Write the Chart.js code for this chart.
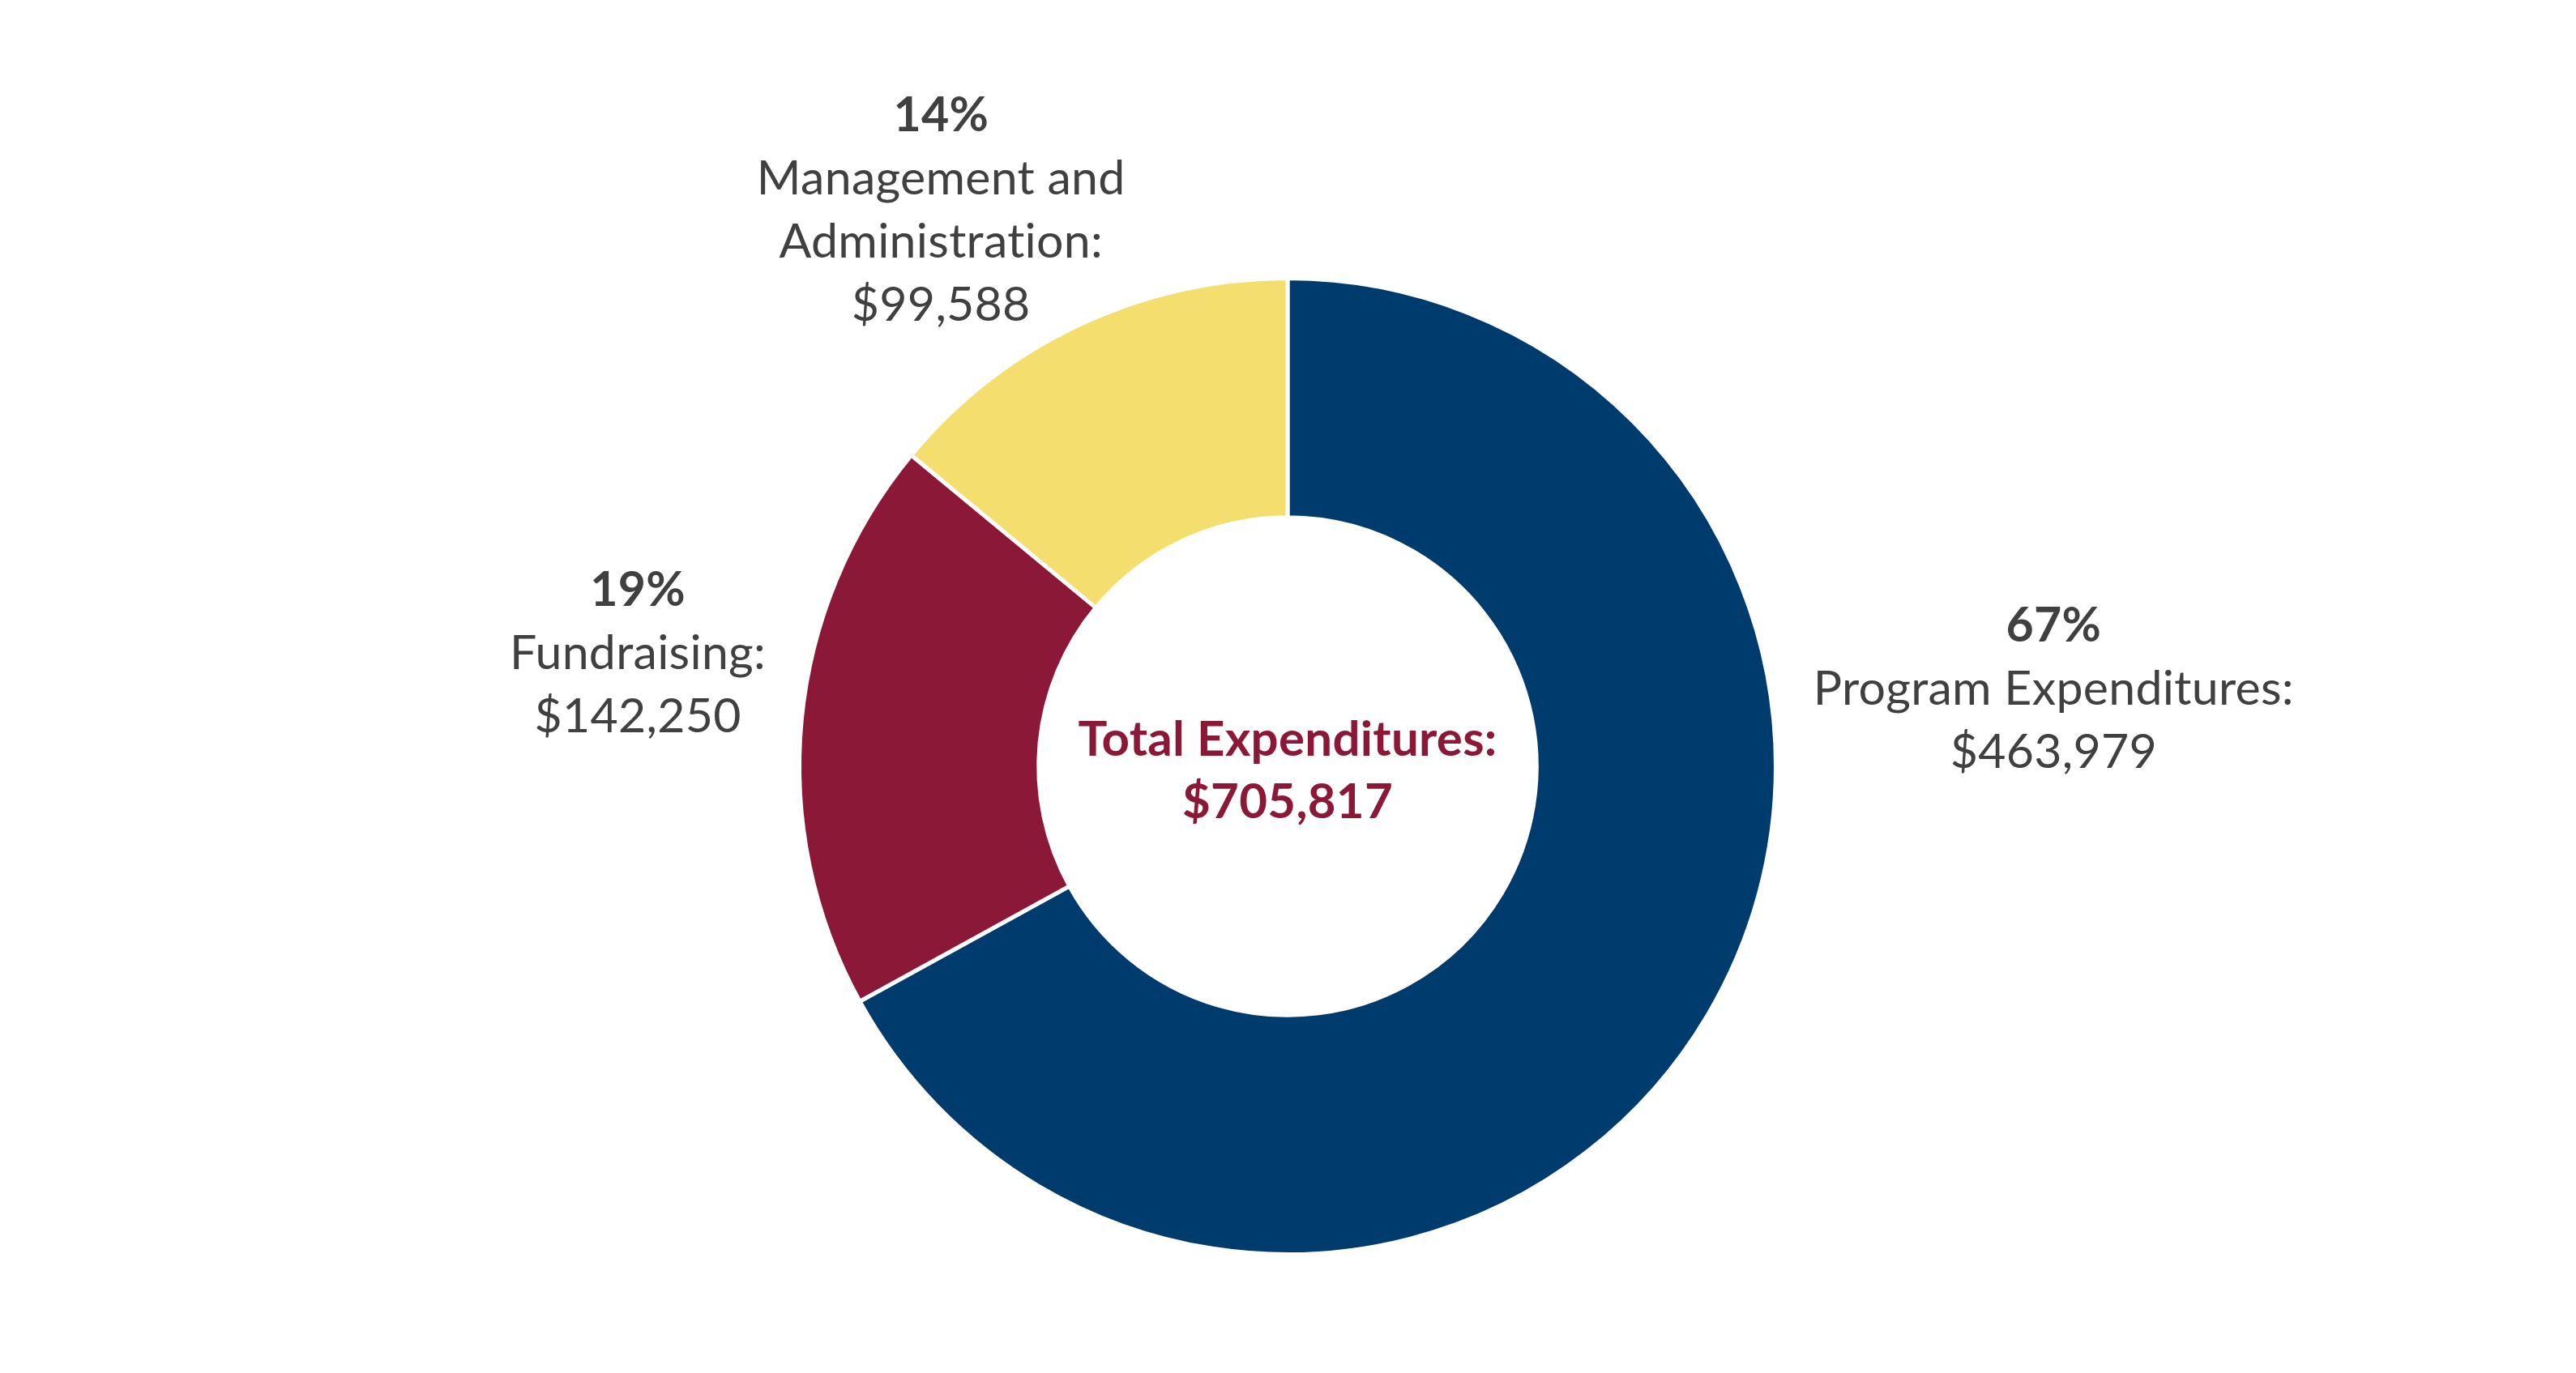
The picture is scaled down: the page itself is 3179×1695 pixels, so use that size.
<!DOCTYPE html>
<html lang="en">
<head>
    <meta charset="UTF-8">
    <title>Expenditures</title>
    <script src="https://cdn.jsdelivr.net/npm/chart.js@4.4.1/dist/chart.umd.min.js"></script>
    <style>
        html, body { margin: 0; padding: 0; background: #ffffff; }
        #wrap { width: 3179px; height: 1695px; }
    </style>
</head>
<body>
<div id="wrap"><canvas id="chart" width="3179" height="1695"></canvas></div>

<script>
// chart values
const categories = ['Program Expenditures:', 'Fundraising:', 'Management and Administration:'];
const percents = [67, 19, 14];
const amounts = ['$463,979', '$142,250', '$99,588'];
const sliceColors = ['#003B6D', '#8B1836', '#F4DE6E'];
const totalLabel = 'Total Expenditures:';
const totalAmount = '$705,817';

// label text lines per slice (long name wrapped the way the picture does)
const labelLines = [
    ['Program Expenditures:'],
    ['Fundraising:'],
    ['Management and', 'Administration:']
];
// where each label block sits, in units of the outer radius from the centre
const labelAnchors = [
    { dx: 1.569, dy: -0.157 },
    { dx: -1.331, dy: -0.231 },
    { dx: -0.710, dy: -1.139 }
];

const textFont = 'Lato, "Open Sans", sans-serif';
const lineH = 78;

const labelPlugin = {
    id: 'sliceLabels',
    afterDraw(chart) {
        const ctx = chart.ctx;
        const arc = chart.getDatasetMeta(0).data[0];
        const cx = arc.x, cy = arc.y, r = arc.outerRadius;
        ctx.save();
        ctx.textAlign = 'center';
        ctx.textBaseline = 'middle';
        ctx.letterSpacing = '0.3px'; // also keeps Lato from joining "ti"

        percents.forEach((p, i) => {
            const lines = [p + '%'].concat(labelLines[i]).concat([amounts[i]]);
            const x = cx + labelAnchors[i].dx * r;
            const midY = cy + labelAnchors[i].dy * r;
            const top = midY - (lines.length - 1) * lineH / 2;
            lines.forEach((t, j) => {
                ctx.fillStyle = '#404040';
                ctx.font = (j === 0 ? 'bold ' : '') + '59px ' + textFont;
                ctx.fillText(t, x, top + j * lineH);
            });
        });

        // centre total
        ctx.fillStyle = '#8B1836';
        ctx.font = 'bold 60px ' + textFont;
        ctx.fillText(totalLabel, cx, cy - 32);
        ctx.fillText(totalAmount, cx, cy + 45);
        ctx.restore();
    }
};

const ctx = document.getElementById('chart').getContext('2d');
const chart = new Chart(ctx, {
    type: 'doughnut',
    data: {
        labels: categories,
        datasets: [{
            data: percents,
            backgroundColor: sliceColors,
            borderColor: '#ffffff',
            borderWidth: 5
        }]
    },
    options: {
        responsive: false,
        animation: false,
        devicePixelRatio: 1,
        cutout: '51%',
        rotation: 0,
        layout: {
            padding: { left: 984, right: 985, top: 341, bottom: 144 }
        },
        plugins: {
            legend: { display: false },
            tooltip: { enabled: false }
        }
    },
    plugins: [labelPlugin]
});
</script>
</body>
</html>
